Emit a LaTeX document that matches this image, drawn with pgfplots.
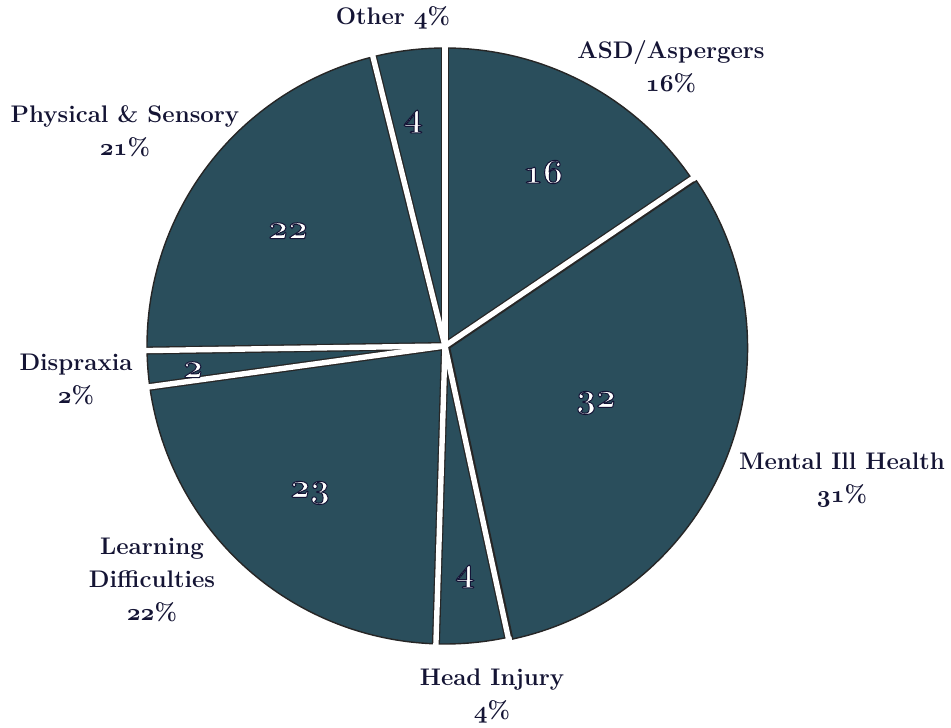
\documentclass[border=0pt]{standalone}
\usepackage{pgfplots}
\pgfplotsset{compat=1.18}
\definecolor{pie}{RGB}{42,78,92}
\definecolor{lab}{RGB}{20,20,52}
% #1 cumulative start, #2 value, #3 cx, #4 cy  (total 103, clockwise from top)
\newcommand\slice[4]{%
  \addplot[fill=pie, draw=black!85, line width=0.7pt, domain={90-360*(#1+#2)/103}:{90-360*(#1)/103}, samples=80, variable=\t]
    ({#3+298*cos(\t)},{#4+298*sin(\t)}) -- (axis cs:#3,#4) -- cycle;}
\newcommand\gapb[1]{%
  \addplot[draw=black!85, line width=4pt, domain=0:1, samples=2, variable=\t]
    ({445+\t*298*cos(90-360*(#1)/103)},{381+\t*298*sin(90-360*(#1)/103)});}
\newcommand\gapw[1]{%
  \addplot[draw=white, line width=2.7pt, domain=0:1, samples=2, variable=\t]
    ({445+\t*306*cos(90-360*(#1)/103)},{381+\t*306*sin(90-360*(#1)/103)});}
\newcommand\osn[1]{{\usefont{OML}{cmm}{b}{it}#1}}
\newcommand\num[1]{{\color{white}\special{pdf:code 2 Tr 0.5 w 0.08 0.08 0.21 RG}\osn{#1}\special{pdf:code 0 Tr}}}
\begin{document}
\begin{tikzpicture}
\begin{axis}[scale only axis, width=475.5pt, height=363.5pt,
  xmin=0, xmax=951, ymin=0, ymax=727, hide axis, clip=false]
% values: ASD 16, Mental 32, Head 4, Learning 23, Dispraxia 2, Physical 22, Other 4
\slice{0}{16}{445}{381}
\slice{16}{32}{449.6}{379.2}
\slice{48}{4}{445}{381}
\slice{52}{23}{445}{381}
\slice{75}{2}{445}{381}
\slice{77}{22}{445}{381}
\slice{99}{4}{445}{381}
\gapb{0}\gapb{16}\gapb{48}\gapb{52}\gapb{75}\gapb{77}\gapb{99}
\gapw{0}\gapw{16}\gapw{48}\gapw{52}\gapw{75}\gapw{77}\gapw{99}
\begin{scope}[every node/.style={font=\fontsize{12}{16.5}\selectfont\bfseries, text=lab, align=center}]
\node at (axis cs:393,709) {Other \osn{4}\%};
\node at (axis cs:671,660.5) {ASD/Aspergers\\\osn{16}\%};
\node at (axis cs:842,247) {Mental Ill Health\\\osn{31}\%};
\node at (axis cs:492,30.5) {Head Injury\\\osn{4}\%};
\node at (axis cs:152,147) {Learning\\Difficulties\\\osn{22}\%};
\node at (axis cs:76,347.5) {Dispraxia\\\osn{2}\%};
\node at (axis cs:125,595.5) {Physical \& Sensory\\\osn{21}\%};
\end{scope}
\begin{scope}[every node/.style={font=\fontsize{18}{20}\selectfont\bfseries}]
\node at (axis cs:543,555) {\num{16}};
\node at (axis cs:596,324) {\num{32}};
\node at (axis cs:465,150) {\num{4}};
\node at (axis cs:310,234) {\num{23}};
\node at (axis cs:193,357) {\num{2}};
\node at (axis cs:288,496) {\num{22}};
\node at (axis cs:413,605) {\num{4}};
\end{scope}
\end{axis}
\pgfresetboundingbox
\path (current axis.south west) rectangle (current axis.north east);
\end{tikzpicture}
\end{document}
